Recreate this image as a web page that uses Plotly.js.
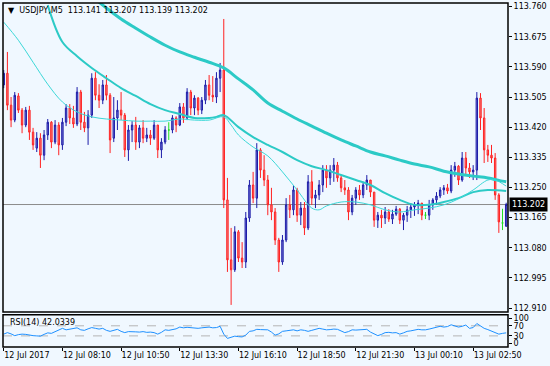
<!DOCTYPE html>
<html><head><meta charset="utf-8">
<script src="https://cdn.plot.ly/plotly-3.0.1.min.js"></script>
<style>html,body{margin:0;padding:0;background:#f0f8ff;}#chart{width:550px;height:366px;}</style>
</head><body><div id="chart"></div>
<script>
const symbol = "USDJPY,M5";
const barMinutes = 10;
const opens = [113.539,113.572,113.482,113.440,113.508,113.468,113.426,113.468,113.406,113.361,113.389,113.341,113.398,113.434,113.378,113.426,113.370,113.434,113.474,113.446,113.429,113.519,113.434,113.418,113.454,113.558,113.510,113.496,113.539,113.510,113.389,113.446,113.468,113.454,113.356,113.412,113.426,113.378,113.418,113.389,113.398,113.389,113.426,113.356,113.378,113.412,113.412,113.446,113.426,113.477,113.446,113.519,113.474,113.502,113.468,113.496,113.539,113.510,113.505,113.558,113.581,113.215,113.046,113.018,113.125,113.051,113.040,113.164,113.257,113.220,113.356,113.299,113.271,113.201,113.181,113.102,113.040,113.102,113.201,113.187,113.243,113.172,113.192,113.136,113.266,113.220,113.229,113.257,113.299,113.277,113.299,113.313,113.277,113.249,113.243,113.181,113.220,113.243,113.229,113.257,113.271,113.237,113.158,113.172,113.164,113.181,113.161,113.175,113.189,113.158,113.172,113.187,113.195,113.201,113.206,113.172,113.172,113.201,113.215,113.226,113.243,113.249,113.240,113.299,113.310,113.271,113.333,113.305,113.294,113.299,113.502,113.446,113.356,113.341,113.333,113.229,113.150,113.141];
const highs = [113.581,113.632,113.505,113.519,113.516,113.474,113.477,113.480,113.418,113.406,113.403,113.412,113.443,113.437,113.440,113.434,113.446,113.485,113.485,113.480,113.533,113.525,113.463,113.468,113.572,113.575,113.541,113.553,113.567,113.516,113.505,113.496,113.519,113.460,113.426,113.437,113.449,113.426,113.440,113.418,113.412,113.440,113.426,113.389,113.423,113.434,113.454,113.451,113.488,113.488,113.530,113.525,113.510,113.505,113.505,113.553,113.567,113.564,113.575,113.601,113.725,113.277,113.136,113.141,113.130,113.096,113.181,113.271,113.294,113.375,113.361,113.341,113.285,113.249,113.192,113.108,113.116,113.220,113.229,113.257,113.249,113.209,113.209,113.285,113.299,113.243,113.271,113.313,113.313,113.313,113.333,113.322,113.285,113.271,113.251,113.229,113.251,113.257,113.266,113.285,113.271,113.237,113.181,113.187,113.195,113.189,113.187,113.198,113.192,113.178,113.198,113.206,113.209,113.215,113.206,113.181,113.215,113.220,113.237,113.251,113.257,113.260,113.313,113.322,113.313,113.350,113.350,113.319,113.313,113.519,113.516,113.474,113.370,113.370,113.347,113.234,113.190,113.207];
const lows = [113.530,113.468,113.420,113.434,113.460,113.403,113.420,113.384,113.356,113.350,113.305,113.327,113.384,113.361,113.372,113.341,113.356,113.423,113.429,113.418,113.423,113.412,113.406,113.370,113.446,113.496,113.474,113.485,113.496,113.347,113.378,113.412,113.440,113.336,113.325,113.378,113.356,113.361,113.375,113.378,113.370,113.384,113.333,113.333,113.372,113.384,113.403,113.406,113.423,113.432,113.440,113.454,113.454,113.454,113.457,113.485,113.496,113.491,113.488,113.519,113.192,113.012,112.919,113.012,113.040,113.023,113.023,113.153,113.206,113.192,113.277,113.254,113.172,113.158,113.088,113.012,113.032,113.096,113.164,113.172,113.153,113.144,113.116,113.130,113.201,113.192,113.215,113.237,113.249,113.257,113.266,113.266,113.237,113.229,113.158,113.172,113.201,113.215,113.220,113.243,113.223,113.139,113.136,113.136,113.147,113.153,113.147,113.170,113.147,113.130,113.153,113.164,113.170,113.175,113.158,113.161,113.158,113.187,113.201,113.220,113.229,113.232,113.234,113.280,113.257,113.266,113.285,113.277,113.271,113.271,113.412,113.319,113.322,113.319,113.215,113.122,113.130,113.139];
const closes = [113.572,113.482,113.440,113.510,113.468,113.426,113.468,113.406,113.370,113.389,113.341,113.398,113.434,113.378,113.426,113.370,113.434,113.474,113.446,113.429,113.519,113.434,113.418,113.454,113.558,113.510,113.496,113.539,113.510,113.384,113.446,113.468,113.454,113.356,113.412,113.426,113.378,113.418,113.389,113.398,113.389,113.426,113.356,113.378,113.412,113.412,113.446,113.426,113.477,113.446,113.519,113.474,113.502,113.468,113.496,113.539,113.510,113.505,113.558,113.581,113.215,113.046,113.018,113.125,113.051,113.040,113.164,113.257,113.220,113.356,113.299,113.271,113.201,113.181,113.102,113.040,113.102,113.201,113.187,113.243,113.172,113.192,113.136,113.266,113.220,113.229,113.257,113.299,113.277,113.299,113.313,113.277,113.249,113.243,113.181,113.220,113.243,113.229,113.257,113.271,113.237,113.158,113.172,113.164,113.181,113.161,113.175,113.189,113.158,113.172,113.187,113.195,113.201,113.206,113.172,113.172,113.201,113.215,113.226,113.243,113.249,113.240,113.299,113.310,113.271,113.333,113.305,113.294,113.299,113.502,113.446,113.356,113.341,113.333,113.229,113.153,113.150,113.202];
const rsiValues = [37,43,38,31,35,37,36,32,31,30,29,36,42,40,47,55,60,54,57,60,62,54,52,58,63,60,57,60,52,48,53,56,48,43,47,48,46,45,47,44,45,43,37,44,54,52,54,58,65,62,64,63,61,60,62,64,65,62,63,68,37,20,26,29,27,26,33,48,50,56,55,53,54,45,33,38,48,50,52,54,50,54,52,48,52,55,60,57,54,55,57,56,50,43,47,54,53,55,56,56,45,38,31,36,43,44,42,43,37,42,48,50,53,56,54,54,57,60,63,68,65,67,74,70,65,68,73,60,63,79,70,60,55,48,42,37,40,42.0339];
const maSlowIdx = [24,28,32,36,40,44,48,52,56,60,64,68,72,76,80,84,88,92,96,100,104,108,112,116,120,124,128,132,136,137];
const maSlowVal = [113.789,113.756,113.725,113.699,113.674,113.651,113.632,113.617,113.603,113.587,113.556,113.525,113.488,113.465,113.443,113.423,113.403,113.384,113.367,113.350,113.339,113.327,113.316,113.308,113.296,113.288,113.282,113.277,113.268,113.266];
const maMidIdx = [12,16,20,24,28,32,36,40,44,48,52,56,58,60,64,68,72,76,80,84,88,92,96,100,104,108,112,116,120,124,128,132,137];
const maMidVal = [113.764,113.660,113.620,113.587,113.558,113.530,113.508,113.485,113.468,113.457,113.446,113.446,113.449,113.454,113.420,113.392,113.370,113.350,113.327,113.310,113.299,113.285,113.271,113.257,113.234,113.215,113.201,113.201,113.209,113.220,113.237,113.243,113.240];
const maFastIdx = [0,4,8,12,16,20,24,28,32,36,40,44,48,52,56,60,62,64,68,72,76,80,84,86,88,92,96,100,104,108,112,116,120,124,128,132,134,137];
const maFastVal = [113.716,113.665,113.603,113.541,113.491,113.463,113.449,113.443,113.440,113.437,113.437,113.437,113.443,113.440,113.440,113.449,113.426,113.398,113.364,113.339,113.294,113.243,113.192,113.187,113.198,113.209,113.209,113.201,113.187,113.181,113.187,113.192,113.201,113.218,113.243,113.271,113.271,113.254];
const priceTicks = [112.910,112.995,113.080,113.165,113.250,113.335,113.420,113.505,113.590,113.675,113.760];
const rsiTicks = [0,30,70,100];
const rsiLevels = [30,70];
const timeTickVals = ["2017-07-12 05:30","2017-07-12 08:10","2017-07-12 10:50","2017-07-12 13:30","2017-07-12 16:10","2017-07-12 18:50","2017-07-12 21:30","2017-07-13 00:10","2017-07-13 02:50"];
const timeTickText = ["12 Jul 2017","12 Jul 08:10","12 Jul 10:50","12 Jul 13:30","12 Jul 16:10","12 Jul 18:50","12 Jul 21:30","13 Jul 00:10","13 Jul 02:50"];

function barTime(i){
  const d = new Date(Date.UTC(2017,6,12,5,30) + i*barMinutes*60000);
  const p = n => String(n).padStart(2,'0');
  return d.getUTCFullYear()+'-'+p(d.getUTCMonth()+1)+'-'+p(d.getUTCDate())+' '+p(d.getUTCHours())+':'+p(d.getUTCMinutes());
}
const times = opens.map((_,i)=>barTime(i));
const last = closes.length-1;
const lastPrice = closes[last];

const nd = {x:[],o:[],h:[],l:[],c:[]}, dj = {x:[],o:[],h:[],l:[],c:[]};
opens.forEach((o,i)=>{
  const t = (o===closes[i]) ? dj : nd;
  t.x.push(times[i]); t.o.push(o); t.h.push(highs[i]); t.l.push(lows[i]); t.c.push(closes[i]);
});

const traces = [
  {type:'candlestick', x:nd.x, open:nd.o, high:nd.h, low:nd.l, close:nd.c, xaxis:'x', yaxis:'y',
   increasing:{line:{color:'#1c1ca8',width:1}, fillcolor:'#7a7ad4'},
   decreasing:{line:{color:'#ff2222',width:1}, fillcolor:'#f48484'},
   whiskerwidth:0, hoverinfo:'skip'},
  {type:'candlestick', x:dj.x, open:dj.o, high:dj.h, low:dj.l, close:dj.c, xaxis:'x', yaxis:'y',
   increasing:{line:{color:'#22dd22',width:1}, fillcolor:'#22dd22'},
   decreasing:{line:{color:'#22dd22',width:1}, fillcolor:'#22dd22'},
   whiskerwidth:0, hoverinfo:'skip'},
  {type:'scatter', mode:'lines', x:maSlowIdx.map(barTime), y:maSlowVal, line:{color:'#2ccac6',width:3,shape:'spline'}, xaxis:'x', yaxis:'y', hoverinfo:'skip'},
  {type:'scatter', mode:'lines', x:maMidIdx.map(barTime), y:maMidVal, line:{color:'#2ccac6',width:2,shape:'spline'}, xaxis:'x', yaxis:'y', hoverinfo:'skip'},
  {type:'scatter', mode:'lines', x:maFastIdx.map(barTime), y:maFastVal, line:{color:'#3cd8d8',width:1,shape:'spline'}, xaxis:'x', yaxis:'y', hoverinfo:'skip'},
  {type:'scatter', mode:'lines', x:times, y:rsiValues, line:{color:'#1e90ff',width:1}, xaxis:'x', yaxis:'y2', hoverinfo:'skip'}
];

const mainDom = [0.1017,1], rsiDom = [0,0.0939];
const shapes = [
  {type:'line', xref:'paper', x0:0, x1:1, yref:'y', y0:lastPrice, y1:lastPrice, line:{color:'#8c8c8c',width:1}, layer:'below'},
  ...rsiLevels.map(v=>({type:'line', xref:'paper', x0:0, x1:1, yref:'y2', y0:v, y1:v, line:{color:'#b4b4b4',width:1,dash:'dash'}, layer:'below'})),
  {type:'rect', xref:'paper', yref:'paper', x0:0, x1:1, y0:mainDom[0], y1:mainDom[1], line:{color:'#000',width:1.5}},
  {type:'rect', xref:'paper', yref:'paper', x0:0, x1:1, y0:rsiDom[0], y1:rsiDom[1], line:{color:'#000',width:1.5}}
];
const annotations = [
  {xref:'paper', yref:'paper', x:0, y:1, xanchor:'left', yanchor:'top', xshift:3, yshift:-1, showarrow:false, align:'left',
   text:'\u25BC  '+symbol+'  '+opens[last].toFixed(3)+' '+highs[last].toFixed(3)+' '+lows[last].toFixed(3)+' '+closes[last].toFixed(3),
   font:{size:8,color:'#000'}},
  {xref:'paper', yref:'paper', x:0, y:rsiDom[1], xanchor:'left', yanchor:'top', xshift:5, yshift:-1, showarrow:false,
   text:'RSI(14) '+rsiValues[last].toFixed(4), font:{size:8,color:'#000'}},
  {xref:'paper', yref:'y', x:1, y:lastPrice, xanchor:'left', yanchor:'middle', xshift:1, showarrow:false,
   text:lastPrice.toFixed(3), bgcolor:'#000', font:{size:8,color:'#fff'}, borderpad:2}
];

const layout = {
  width:550, height:366,
  margin:{l:3, r:42, t:3, b:19, pad:0},
  paper_bgcolor:'#f0f8ff', plot_bgcolor:'#f0f8ff',
  showlegend:false,
  boxgap:0.45,
  font:{family:'"DejaVu Sans", sans-serif', size:8, color:'#000'},
  xaxis:{type:'date', range:['2017-07-12 05:28','2017-07-13 04:25'], rangeslider:{visible:false},
    tickvals:timeTickVals, ticktext:timeTickText, ticks:'outside', ticklen:3, tickcolor:'#000',
    ticklabelposition:'outside right', showgrid:false, zeroline:false, showline:false, anchor:'y2',
    tickfont:{size:8,color:'#000'}},
  yaxis:{domain:mainDom, range:[112.899,113.770], side:'right', tickvals:priceTicks,
    ticktext:priceTicks.map(v=>v.toFixed(3)), ticks:'outside', ticklen:3, tickcolor:'#000',
    showgrid:false, zeroline:false, tickfont:{size:8,color:'#000'}},
  yaxis2:{domain:rsiDom, range:[-14,114], side:'right', tickvals:rsiTicks, ticks:'outside', ticklen:3,
    tickcolor:'#000', showgrid:false, zeroline:false, tickfont:{size:8,color:'#000'}},
  shapes:shapes, annotations:annotations
};
Plotly.newPlot('chart', traces, layout, {staticPlot:true, displayModeBar:false});
</script>
</body></html>
